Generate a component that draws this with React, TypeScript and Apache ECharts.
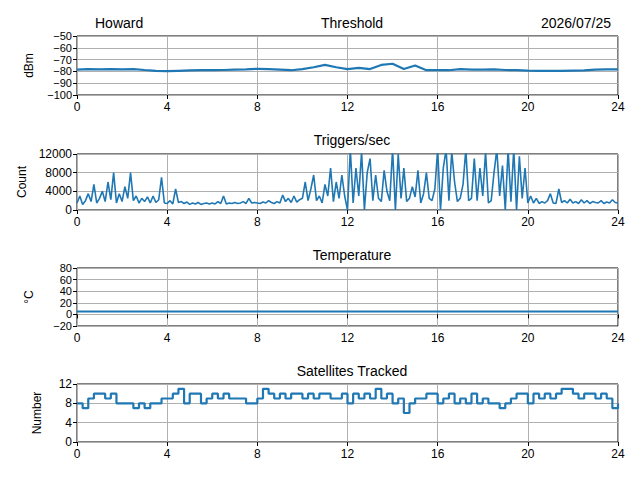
import React, { useEffect, useRef } from "react";
import * as echarts from "echarts";

const xTicks = [0, 4, 8, 12, 16, 20, 24];
const thresholdValues = [
  -78.5, -78, -78.3, -78, -78.2, -78, -78.8, -79.5, -79.8, -79.5, -79.2, -79, -79, -78.8, -78.5, -78.2,
  -77.8, -78, -78.5, -79, -78, -76.5, -74.5, -76.5, -78, -77, -78, -74.5, -73.5, -78, -75, -79,
  -79, -79, -78, -78.5, -78.5, -78.3, -78.8, -79, -79.3, -79.5, -79.5, -79.5, -79.3, -79.2, -78.5, -78.3, -78.3,
];
const triggerValues = [
  1500, 3000, 1200, 2000, 3500, 1800, 5500, 1500,
  2500, 4000, 1800, 6000, 2200, 8000, 1500, 3500,
  1800, 5000, 2500, 8000, 2000, 3000, 1500, 2500,
  1800, 2800, 1500, 3000, 1600, 2200, 7000, 1500,
  1400, 2000, 1300, 4500, 1600, 1800, 1400, 1700,
  1200, 1500, 1300, 1600, 1200, 1400, 1500, 1300,
  1500, 1300, 1800, 1400, 3000, 1300, 1500, 1400,
  1600, 1400, 1500, 1800, 1400, 2500, 1500, 1600,
  1500, 1400, 1700, 1500, 2000, 1600, 1400, 1800,
  1500, 3200, 1800, 2500, 1600, 3000, 1700, 2200,
  2500, 6000, 2000, 4500, 7500, 2000, 3000, 1500,
  5500, 3000, 9000, 1800, 6000, 2500, 7500, 3000,
  0, 13000, 1500, 9000, 3000, 12500, 0, 8000,
  11000, 2000, 7500, 2500, 1800, 8500, 4000, 2000,
  13000, 0, 12000, 2500, 9000, 1800, 2500, 5000,
  2800, 8500, 1500, 3500, 8000, 2500, 2000, 4500,
  13000, 0, 9000, 13000, 2000, 12500, 6000, 1800,
  2500, 5500, 13000, 2000, 2500, 11000, 2000, 9000,
  3000, 12500, 1500, 2000, 8000, 13000, 3000, 9500,
  0, 13000, 1800, 13000, 0, 11500, 2500, 9000,
  1500, 3000, 1500, 2500, 1400, 1800, 1500, 2000,
  3500, 1500, 1400, 4500, 1600, 2000, 1500, 2300,
  1500, 1800, 1400, 2200, 1500, 2000, 1400, 1800,
  1600, 1500, 2000, 1400, 1700, 1500, 2200, 1600, 1500,
];
const temperatureValues = [5, 5];
const satelliteValues = [
  8, 7, 9, 10, 10, 9, 10, 8, 8, 8, 7, 8, 7, 8, 8, 9,
  9, 10, 11, 8, 10, 10, 8, 9, 10, 9, 10, 9, 9, 9, 8, 8,
  9, 11, 10, 9, 10, 9, 10, 10, 9, 10, 9, 10, 10, 9, 9, 10,
  8, 10, 9, 10, 9, 11, 9, 10, 8, 9, 6, 8, 9, 9, 10, 10,
  8, 9, 10, 8, 9, 8, 10, 8, 9, 8, 8, 7, 8, 9, 10, 10,
  8, 10, 9, 10, 9, 10, 11, 11, 10, 9, 10, 10, 9, 10, 9, 7, 8,
];

const toPairs = (vals: number[], step: number) => vals.map((v, i) => [i * step, v]);

export default function App() {
  const ref = useRef<HTMLDivElement>(null);
  useEffect(() => {
    document.body.style.margin = "0";
    const chart = echarts.init(ref.current!, null, { renderer: "svg" });
    const font = "Liberation Sans";
    const tops = [36, 154, 268, 384];
    const heights = [59, 56, 58, 58];
    const yDefs = [
      { min: -100, max: -50, interval: 10, name: "dBm" },
      { min: 0, max: 12000, interval: 4000, name: "Count" },
      { min: -20, max: 80, interval: 20, name: "°C" },
      { min: 0, max: 12, interval: 4, name: "Number" },
    ];
    const titles = ["Threshold", "Triggers/sec", "Temperature", "Satellites Tracked"];
    const titleY = [11, 128, 243, 359];
    const datasets = [
      toPairs(thresholdValues, 0.5),
      toPairs(triggerValues, 0.125),
      toPairs(temperatureValues, 24),
      toPairs(satelliteValues, 0.25),
    ];
    const grid = tops.map((t, i) => ({
      left: 77, right: 22, top: t, height: heights[i], show: true,
      borderColor: "#000", borderWidth: 1, backgroundColor: "transparent",
    }));
    const xAxis = tops.map((_, i) => ({
      type: "value", gridIndex: i, min: 0, max: 24, interval: 4,
      axisLine: { show: false },
      axisTick: { show: true, length: 4, lineStyle: { color: "#000" } },
      axisLabel: { color: "#000", fontFamily: font, fontSize: 12, margin: 6 },
      splitLine: { show: true, lineStyle: { color: "#b0b0b0", width: 1 } },
    }));
    const yAxis = yDefs.map((d, i) => ({
      type: "value", gridIndex: i, min: d.min, max: d.max, interval: d.interval,
      name: d.name, nameLocation: "middle", nameGap: i === 1 ? 44 : i === 3 ? 34 : 42,
      nameTextStyle: { color: "#000", fontFamily: font, fontSize: 12 },
      axisLine: { show: false },
      axisTick: { show: true, length: 4, lineStyle: { color: "#000" } },
      axisLabel: {
        color: "#000", fontFamily: font, fontSize: i === 0 || i === 2 ? 11 : 12, margin: 5,
        lineHeight: 10, showMinLabel: true, showMaxLabel: true, hideOverlap: false,
        formatter: (v: number) => String(v).replace("-", "\u2212"),
      },
      splitLine: { show: true, lineStyle: { color: "#b0b0b0", width: 1 } },
    }));
    const series = datasets.map((data, i) => ({
      type: "line", xAxisIndex: i, yAxisIndex: i, data, showSymbol: false,
      step: i === 3 ? "end" : undefined,
      lineStyle: { color: "#1f77b4", width: i === 1 ? 1.6 : 2.2 },
      clip: true,
    }));
    chart.setOption({
      animation: false,
      title: [
        ...titles.map((t, i) => ({
          text: t, left: 347, top: titleY[i], textAlign: "center",
          textStyle: { fontFamily: font, fontSize: 14, fontWeight: "normal", color: "#000" },
        })),
        { text: "Howard", left: 90, top: 11, textStyle: { fontFamily: font, fontSize: 14, fontWeight: "normal", color: "#000" } },
        { text: "2026/07/25", right: 24, top: 11, textStyle: { fontFamily: font, fontSize: 14, fontWeight: "normal", color: "#000" } },
      ],
      grid, xAxis, yAxis, series,
    });
    return () => chart.dispose();
  }, []);
  return <div ref={ref} style={{ width: 640, height: 480 }} />;
}
